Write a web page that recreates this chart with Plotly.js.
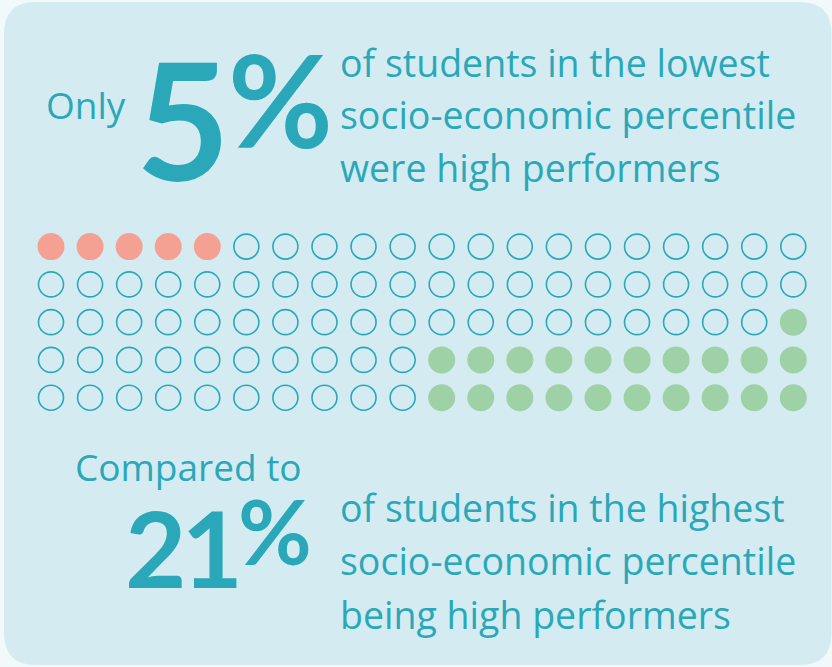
<!DOCTYPE html>
<html>
<head>
<meta charset="utf-8">
<script src="https://cdn.plot.ly/plotly-3.0.1.min.js"></script>
<style>html,body{margin:0;padding:0;background:#f1f9fb;}</style>
</head>
<body>
<div id="chart" style="width:832px;height:667px;"></div>
<script>
// ---- data ----
const lowPercent = 5;    // lowest socio-economic percentile: high performers
const highPercent = 21;  // highest socio-economic percentile: high performers
// waffle of 100 cells (5 rows x 20 columns): L = lowest group, H = highest group, . = rest
const waffleRows = [
  "LLLLL...............",
  "....................",
  "...................H",
  "..........HHHHHHHHHH",
  "..........HHHHHHHHHH"
];
const topLead = "Only";
const topLines = ["of students in the lowest", "socio-economic percentile", "were high performers"];
const bottomLead = "Compared to";
const bottomLines = ["of students in the highest", "socio-economic percentile", "being high performers"];

// ---- styles ----
const TEAL = "#2aa8b9";
const CARD = "#d4ecf1";
const SALMON = "#f4a193";
const GREEN = "#9ed2a6";
const BODY_FONT = "'Open Sans', Lato, sans-serif";
const BIG_FONT = "Lato, 'Open Sans', sans-serif";

// build waffle cells from the grid
const lowX = [], lowY = [], highX = [], highY = [], emptyX = [], emptyY = [];
waffleRows.forEach((row, r) => {
  row.split("").forEach((ch, c) => {
    if (ch === "L") { lowX.push(c); lowY.push(r); }
    else if (ch === "H") { highX.push(c); highY.push(r); }
    else { emptyX.push(c); emptyY.push(r); }
  });
});
const gridCols = waffleRows[0].length, gridRows = waffleRows.length;

const W = 832, H = 667;
const x0px = 51, dx = (793.3 - 51) / (gridCols - 1);
const y0px = 246.6, dy = (397.7 - 246.6) / (gridRows - 1);
const xRange = [-x0px / dx, (W - x0px) / dx];
const yRange = [(H - y0px) / dy, -y0px / dy];

const markerSize = 27;
const traces = [
  {x: emptyX, y: emptyY, type: "scatter", mode: "markers", hoverinfo: "skip",
   marker: {size: markerSize - 2, color: "rgba(0,0,0,0)", line: {color: TEAL, width: 1.6}}},
  {x: lowX, y: lowY, type: "scatter", mode: "markers", hoverinfo: "skip",
   marker: {size: markerSize, color: SALMON, line: {width: 0}}},
  {x: highX, y: highY, type: "scatter", mode: "markers", hoverinfo: "skip",
   marker: {size: markerSize, color: GREEN, line: {width: 0}}}
];

function px2x(px){ return px / W; }
function py2y(py){ return 1 - py / H; }

const annotations = [];
function addText(text, xpx, baselinePx, size, family, weight) {
  annotations.push({
    text: text, xref: "paper", yref: "paper",
    x: px2x(xpx), y: py2y(baselinePx), xanchor: "left", yanchor: "bottom",
    yshift: -size * 0.22, showarrow: false, borderpad: 0,
    font: {family: family, size: size, color: TEAL, weight: weight || 400}
  });
}
function bigPercent(value, pctSize, raise, spacing) {
  return `<span style="letter-spacing:${spacing}px">${value}</span>` +
         `<span style="font-size:${pctSize}px;baseline-shift:${raise}px">%</span>`;
}
addText(topLead, 45, 123, 37, BODY_FONT);
addText(bigPercent(lowPercent, 128, 33, -2), 135, 181, 162, BIG_FONT, 700);
const topBase = [80.5, 133, 186];
topLines.forEach((t, i) => addText(t, 339, topBase[i], 37.5, BODY_FONT));
addText(bottomLead, 74, 485, 37, BODY_FONT);
addText(bigPercent(highPercent, 90, 23, -5), 124, 589, 106, BIG_FONT, 700);
const botBase = [526, 579, 633];
bottomLines.forEach((t, i) => addText(t, 339, botBase[i], 37.5, BODY_FONT));

// card shape with rounded corners (paper coords)
const L = 4 / W, T = 1 - 2 / H, R = 1 - 0.5 / W, B = 1 - 665 / H;
const rx = 32 / W, ry = 32 / H;
const cardPath = `M ${L + rx} ${T} L ${R - rx} ${T} Q ${R} ${T} ${R} ${T - ry} L ${R} ${B + ry} Q ${R} ${B} ${R - rx} ${B} L ${L + rx} ${B} Q ${L} ${B} ${L} ${B + ry} L ${L} ${T - ry} Q ${L} ${T} ${L + rx} ${T} Z`;

const layout = {
  width: W, height: H,
  margin: {l: 0, r: 0, t: 0, b: 0, pad: 0},
  paper_bgcolor: "#f1f9fb", plot_bgcolor: "rgba(0,0,0,0)",
  showlegend: false,
  xaxis: {range: xRange, visible: false, fixedrange: true},
  yaxis: {range: yRange, visible: false, fixedrange: true},
  shapes: [{type: "path", xref: "paper", yref: "paper", path: cardPath,
            fillcolor: CARD, line: {width: 0}, layer: "below"}],
  annotations: annotations
};

Plotly.newPlot("chart", traces, layout, {displayModeBar: false, staticPlot: true});
</script>
</body>
</html>
